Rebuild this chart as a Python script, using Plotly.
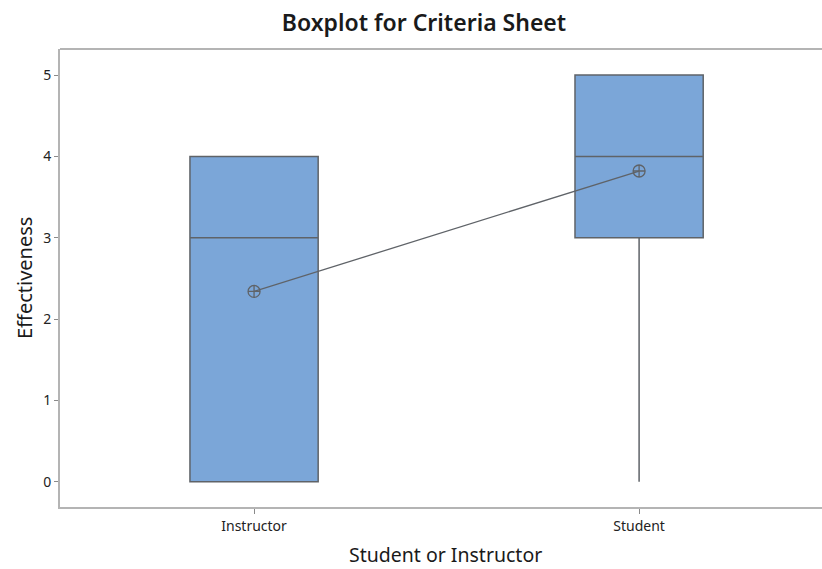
import plotly.graph_objects as go

# Summary statistics per group
groups = ["Instructor", "Student"]
minimum = [0, 0]
q1 = [0, 3]
median = [3, 4]
q3 = [4, 5]
maximum = [4, 5]
means = [2.34, 3.82]

y_ticks = [0, 1, 2, 3, 4, 5]

box_fill = "#7BA6D8"
edge = "#5F6368"
frame = "#B4B4B4"
font_family = "Noto Sans, Open Sans, DejaVu Sans, sans-serif"

# plot area geometry in pixels
PLOT_LEFT, PLOT_WIDTH, PLOT_HEIGHT = 60, 762, 458

fig = go.Figure()

fig.add_trace(go.Box(
    x=[0, 1],
    q1=q1,
    median=median,
    q3=q3,
    lowerfence=minimum,
    upperfence=maximum,
    width=0.333,
    whiskerwidth=0,
    fillcolor=box_fill,
    line=dict(color=edge, width=1.5),
    boxpoints=False,
    hoverinfo="skip",
    showlegend=False,
))

# Mean symbols joined by a connect line
fig.add_trace(go.Scatter(
    x=[0, 1],
    y=means,
    mode="lines+markers",
    line=dict(color=edge, width=1.3),
    marker=dict(symbol="circle-cross-open", size=12, color=edge, line=dict(width=1.3)),
    showlegend=False,
    hoverinfo="skip",
))

fig.update_layout(
    width=822,
    height=569,
    margin=dict(l=60, r=0, t=49, b=62),
    paper_bgcolor="white",
    plot_bgcolor="white",
    font=dict(family=font_family, color="#222222"),
    title=dict(
        text="Boxplot for Criteria Sheet",
        x=424 / 822,
        xref="container",
        xanchor="center",
        y=1 - 23 / 569,
        yref="container",
        yanchor="middle",
        font=dict(size=23, family=font_family, color="#1a1a1a", weight=600),
    ),
    xaxis=dict(
        range=[-0.504, 1.475],
        tickmode="array",
        tickvals=[0, 1],
        ticktext=groups,
        showgrid=False,
        zeroline=False,
        showline=True,
        linecolor=frame,
        linewidth=2,
        ticks="outside",
        ticklen=5,
        tickcolor="#8a8a8a",
        tickfont=dict(size=14, color="#222222"),
    ),
    yaxis=dict(
        range=[-0.31, 5.32],
        tickmode="array",
        tickvals=y_ticks,
        showgrid=False,
        zeroline=False,
        showline=True,
        linecolor=frame,
        linewidth=2,
        ticks="outside",
        ticklen=4,
        tickcolor="#8a8a8a",
        tickfont=dict(size=14, color="#222222"),
    ),
    shapes=[
        dict(type="line", xref="paper", yref="paper", x0=0, x1=1, y0=1, y1=1,
             line=dict(color=frame, width=2)),
    ],
    annotations=[
        dict(text="Student or Instructor", xref="paper", yref="paper",
             x=(446 - PLOT_LEFT) / PLOT_WIDTH, y=-47 / PLOT_HEIGHT,
             xanchor="center", yanchor="middle",
             showarrow=False, font=dict(size=19.5, color="#1a1a1a")),
        dict(text="Effectiveness", xref="paper", yref="paper",
             x=(24 - PLOT_LEFT) / PLOT_WIDTH, y=0.5, textangle=-90,
             xanchor="center", yanchor="middle",
             showarrow=False, font=dict(size=20, color="#1a1a1a")),
    ],
)

fig.write_html("out.html")
